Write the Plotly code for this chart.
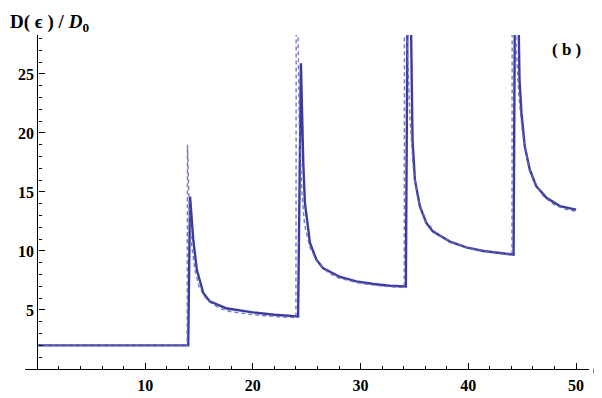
import plotly.graph_objects as go

# solid curve
solid_x = [0, 14.0, 14.17, 14.47, 14.8, 15.4, 16.0, 17.5, 20.0, 22.0, 24.2,
           24.46, 24.68, 24.83, 25.3, 25.9, 26.5, 28.1, 29.6, 31.2, 32.7, 34.2,
           34.45, 34.7, 34.82, 35.04, 35.5, 36.1, 36.7, 38.3, 39.8, 41.4, 42.9, 44.2,
           44.4, 44.75, 44.93, 45.24, 45.7, 46.3, 47.25, 48.5, 50.0]
solid_y = [2.0, 2.0, 14.6, 10.96, 8.4, 6.44, 5.73, 5.15, 4.8, 4.6, 4.45,
           25.9, 17.46, 14.07, 10.68, 9.26, 8.56, 7.8, 7.42, 7.2, 7.06, 7.0,
           45, 24.0, 19.4, 16.04, 13.8, 12.37, 11.66, 10.8, 10.3, 10.0, 9.83, 9.68,
           45, 24.5, 21.7, 18.86, 16.9, 15.5, 14.5, 13.8, 13.5]

# dashed curve
dash_x = [0, 13.9, 13.93, 14.1, 14.3, 14.6, 15.0, 15.5, 16.0, 17.0, 18.0, 20.0, 22.0, 24.0,
          24.03, 24.15, 24.3, 24.55, 24.8, 25.3, 26.0, 27.0, 28.0, 30.0, 32.0, 34.05,
          34.08, 34.35, 34.6, 34.9, 35.3, 36.0, 37.0, 38.5, 40.0, 42.0, 44.05,
          44.08, 44.45, 44.7, 45.0, 45.5, 46.0, 47.0, 48.0, 49.0, 50.0]
dash_y = [2.0, 2.0, 19.0, 13.5, 10.7, 8.5, 7.0, 6.15, 5.65, 5.1, 4.85, 4.6, 4.45, 4.35,
          40, 32, 21, 15.0, 12.2, 10.3, 9.05, 8.15, 7.7, 7.25, 7.03, 6.9,
          40, 27, 21, 17.0, 14.5, 12.6, 11.5, 10.7, 10.25, 9.9, 9.65,
          40, 27, 23, 20.3, 17.6, 16.1, 14.6, 13.9, 13.55, 13.35]

x_ticks = [10, 20, 30, 40, 50]
y_ticks = [5, 10, 15, 20, 25]

line_color = 'rgb(60, 60, 160)'
font_serif = 'Liberation Serif'

fig = go.Figure()

fig.add_trace(go.Scatter(
    x=solid_x, y=solid_y, mode='lines',
    line=dict(color=line_color, width=2.4),
    showlegend=False
))

fig.add_trace(go.Scatter(
    x=dash_x, y=dash_y, mode='lines',
    line=dict(color='rgba(105, 105, 185, 0.9)', width=1.4, dash='4px,3px'),
    showlegend=False
))

# the page body adds an 8px offset, so the figure is 8px smaller each way
fig.update_layout(
    width=594, height=390,
    margin=dict(l=17, r=13, t=27, b=29),
    plot_bgcolor='white', paper_bgcolor='white',
    font=dict(family=font_serif, size=15, color='black'),
    xaxis=dict(
        range=[-1.15, 51.2], showgrid=False, zeroline=False, automargin=False,
        showline=True, linecolor='black', linewidth=1.3,
        tickvals=x_ticks, ticks='inside', ticklen=6, tickcolor='black',
        ticklabelstandoff=2,
        tickfont=dict(family=font_serif, size=16, color='black', weight='bold'),
        minor=dict(dtick=2, tick0=0, ticks='inside', ticklen=3, tickcolor='black'),
    ),
    yaxis=dict(
        range=[0, 28.3], showgrid=False, zeroline=False, automargin=False,
        anchor='free', position=0.022,
        showline=True, linecolor='black', linewidth=1.3,
        tickvals=y_ticks, ticks='inside', ticklen=6, tickcolor='black',
        tickfont=dict(family=font_serif, size=16, color='black', weight='bold'),
        minor=dict(dtick=1, tick0=0, ticks='inside', ticklen=3, tickcolor='black'),
    ),
    annotations=[
        dict(text='<b>D( ϵ ) / </b><b><i>D</i><sub>0</sub></b>', xref='paper', yref='paper',
             x=-0.030, y=1.079, xanchor='left', yanchor='top', showarrow=False,
             font=dict(family=font_serif, size=19, color='black')),
        dict(text='<b>( b )</b>', xref='x', yref='y', x=49.1, y=27.1,
             xanchor='center', yanchor='middle', showarrow=False,
             font=dict(family=font_serif, size=17, color='black')),
        dict(text='<b>ϵ</b>', xref='paper', yref='y', x=1.0, y=0,
             xanchor='left', yanchor='middle', showarrow=False, xshift=2,
             font=dict(family=font_serif, size=16, color='black')),
    ],
)

fig.write_html("out.html")
